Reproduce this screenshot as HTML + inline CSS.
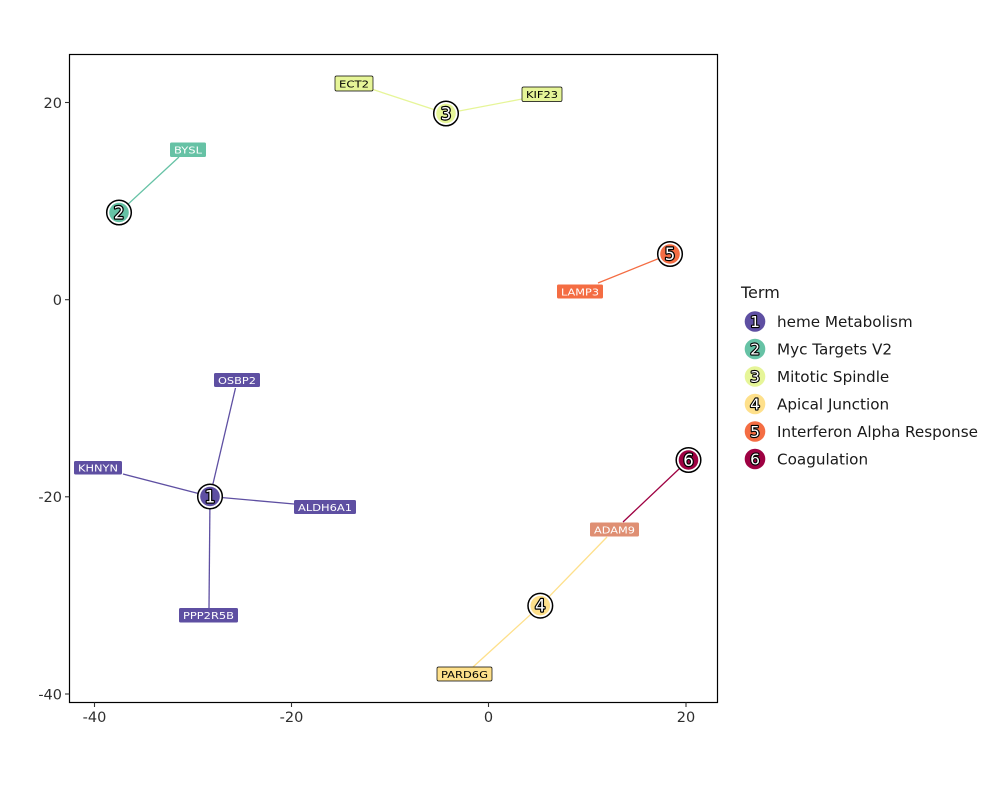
<!DOCTYPE html>
<html>
<head>
<meta charset="utf-8">
<style>
  html, body { margin:0; padding:0; background:#ffffff; }
  svg { display:block; }
  text { font-family: "DejaVu Sans", "Liberation Sans", sans-serif; }
  .tick { font-size:14.5px; fill:#2e2e2e; }
  .lbl { font-size:9.5px; }
  .num { font-size:16.5px; fill:#ffffff; stroke:#000000; stroke-width:2.4px; paint-order:stroke; stroke-linejoin:round; }
  .lnum { font-size:15.5px; fill:#ffffff; stroke:#000000; stroke-width:2.2px; paint-order:stroke; stroke-linejoin:round; }
  .leg { font-size:15.2px; fill:#1a1a1a; }
</style>
</head>
<body>
<svg width="1000" height="800" viewBox="0 0 1000 800" xmlns="http://www.w3.org/2000/svg">
  <rect x="0" y="0" width="1000" height="800" fill="#ffffff"/>

  <!-- edges -->
  <g stroke-width="1.3" fill="none">
    <line x1="210" y1="496.5" x2="235.5" y2="388" stroke="#5E4FA2"/>
    <line x1="210" y1="496.5" x2="123" y2="474" stroke="#5E4FA2"/>
    <line x1="210" y1="496.5" x2="294" y2="504" stroke="#5E4FA2"/>
    <line x1="210" y1="496.5" x2="209" y2="608" stroke="#5E4FA2"/>
    <line x1="119" y1="212.5" x2="179" y2="157" stroke="#66C2A5"/>
    <line x1="446" y1="113.5" x2="373" y2="89.5" stroke="#E6F598"/>
    <line x1="446" y1="113.5" x2="522" y2="99" stroke="#E6F598"/>
    <line x1="540.3" y1="605.7" x2="473" y2="667" stroke="#FEE08B"/>
    <line x1="540.3" y1="605.7" x2="607" y2="537" stroke="#FEE08B"/>
    <line x1="670" y1="254" x2="598" y2="283" stroke="#F46D43"/>
    <line x1="688.5" y1="460" x2="623" y2="522" stroke="#9E0142"/>
  </g>

  <!-- labels -->
  <g class="lbl">
    <rect x="170" y="142.5" width="36" height="14.5" rx="1.5" fill="#66C2A5"/>
    <text x="188" y="153.5" text-anchor="middle" fill="#ffffff" textLength="28" lengthAdjust="spacingAndGlyphs">BYSL</text>

    <rect x="335" y="76" width="38" height="15" rx="1.5" fill="#E6F598" stroke="#000" stroke-width="0.7"/>
    <text x="354" y="87.3" text-anchor="middle" fill="#000000" textLength="30" lengthAdjust="spacingAndGlyphs">ECT2</text>

    <rect x="522" y="87" width="40" height="14.5" rx="1.5" fill="#E6F598" stroke="#000" stroke-width="0.7"/>
    <text x="542" y="98" text-anchor="middle" fill="#000000" textLength="32" lengthAdjust="spacingAndGlyphs">KIF23</text>

    <rect x="214" y="373" width="46" height="14" rx="1.5" fill="#5E4FA2"/>
    <text x="237" y="383.8" text-anchor="middle" fill="#ffffff" textLength="38" lengthAdjust="spacingAndGlyphs">OSBP2</text>

    <rect x="74" y="461" width="48" height="13.5" rx="1.5" fill="#5E4FA2"/>
    <text x="98" y="471.5" text-anchor="middle" fill="#ffffff" textLength="40" lengthAdjust="spacingAndGlyphs">KHNYN</text>

    <rect x="294" y="500" width="62" height="14" rx="1.5" fill="#5E4FA2"/>
    <text x="325" y="510.8" text-anchor="middle" fill="#ffffff" textLength="54" lengthAdjust="spacingAndGlyphs">ALDH6A1</text>

    <rect x="179" y="608" width="59" height="14.5" rx="1.5" fill="#5E4FA2"/>
    <text x="208.5" y="619" text-anchor="middle" fill="#ffffff" textLength="51" lengthAdjust="spacingAndGlyphs">PPP2R5B</text>

    <rect x="557" y="284.5" width="46" height="14" rx="1.5" fill="#F46D43"/>
    <text x="580" y="295.3" text-anchor="middle" fill="#ffffff" textLength="38" lengthAdjust="spacingAndGlyphs">LAMP3</text>

    <rect x="590" y="522.5" width="49" height="14" rx="1.5" fill="#DF8F73"/>
    <text x="614.5" y="533.3" text-anchor="middle" fill="#ffffff" textLength="41" lengthAdjust="spacingAndGlyphs">ADAM9</text>

    <rect x="437" y="667" width="55" height="14" rx="1.5" fill="#FEE08B" stroke="#000" stroke-width="0.7"/>
    <text x="464.5" y="677.8" text-anchor="middle" fill="#000000" textLength="47" lengthAdjust="spacingAndGlyphs">PARD6G</text>
  </g>

  <!-- nodes -->
  <g>
    <circle cx="210" cy="496.5" r="12.3" fill="#ffffff" stroke="#000" stroke-width="1.5"/>
    <circle cx="210" cy="496.5" r="9.8" fill="#5E4FA2"/>
    <text class="num" x="210" y="502.5" text-anchor="middle">1</text>

    <circle cx="119" cy="212.5" r="12.3" fill="#ffffff" stroke="#000" stroke-width="1.5"/>
    <circle cx="119" cy="212.5" r="9.8" fill="#66C2A5"/>
    <text class="num" x="119" y="218.5" text-anchor="middle">2</text>

    <circle cx="446" cy="113.5" r="12.3" fill="#ffffff" stroke="#000" stroke-width="1.5"/>
    <circle cx="446" cy="113.5" r="9.8" fill="#E6F598"/>
    <text class="num" x="446" y="119.5" text-anchor="middle">3</text>

    <circle cx="540.3" cy="605.7" r="12.3" fill="#ffffff" stroke="#000" stroke-width="1.5"/>
    <circle cx="540.3" cy="605.7" r="9.8" fill="#FEE08B"/>
    <text class="num" x="540.3" y="611.7" text-anchor="middle">4</text>

    <circle cx="670" cy="254" r="12.3" fill="#ffffff" stroke="#000" stroke-width="1.5"/>
    <circle cx="670" cy="254" r="9.8" fill="#F46D43"/>
    <text class="num" x="670" y="260" text-anchor="middle">5</text>

    <circle cx="688.5" cy="460" r="12.3" fill="#ffffff" stroke="#000" stroke-width="1.5"/>
    <circle cx="688.5" cy="460" r="9.8" fill="#9E0142"/>
    <text class="num" x="688.5" y="466" text-anchor="middle">6</text>
  </g>

  <!-- panel border -->
  <rect x="69.5" y="54.5" width="648" height="648" fill="none" stroke="#000" stroke-width="1.2"/>

  <!-- ticks -->
  <g stroke="#333" stroke-width="1.1">
    <line x1="65" y1="102.5" x2="69.5" y2="102.5"/>
    <line x1="65" y1="299.7" x2="69.5" y2="299.7"/>
    <line x1="65" y1="496.8" x2="69.5" y2="496.8"/>
    <line x1="65" y1="694" x2="69.5" y2="694"/>
    <line x1="94.5" y1="702.5" x2="94.5" y2="707"/>
    <line x1="291.5" y1="702.5" x2="291.5" y2="707"/>
    <line x1="488.5" y1="702.5" x2="488.5" y2="707"/>
    <line x1="686" y1="702.5" x2="686" y2="707"/>
  </g>
  <g class="tick">
    <text x="62" y="107.8" text-anchor="end">20</text>
    <text x="62" y="305" text-anchor="end">0</text>
    <text x="62" y="502.1" text-anchor="end">-20</text>
    <text x="62" y="699.3" text-anchor="end">-40</text>
    <text x="94.5" y="722" text-anchor="middle">-40</text>
    <text x="291.5" y="722" text-anchor="middle">-20</text>
    <text x="488.5" y="722" text-anchor="middle">0</text>
    <text x="686" y="722" text-anchor="middle">20</text>
  </g>

  <!-- legend -->
  <text x="741" y="298" style="font-size:16px; fill:#1a1a1a;">Term</text>
  <g>
    <circle cx="755" cy="321.5" r="10.3" fill="#5E4FA2"/>
    <text class="lnum" x="755" y="327" text-anchor="middle">1</text>
    <text class="leg" x="777" y="327">heme Metabolism</text>

    <circle cx="755" cy="349" r="10.3" fill="#66C2A5"/>
    <text class="lnum" x="755" y="354.5" text-anchor="middle">2</text>
    <text class="leg" x="777" y="354.5">Myc Targets V2</text>

    <circle cx="755" cy="376.5" r="10.3" fill="#E6F598"/>
    <text class="lnum" x="755" y="382" text-anchor="middle">3</text>
    <text class="leg" x="777" y="382">Mitotic Spindle</text>

    <circle cx="755" cy="404" r="10.3" fill="#FEE08B"/>
    <text class="lnum" x="755" y="409.5" text-anchor="middle">4</text>
    <text class="leg" x="777" y="409.5">Apical Junction</text>

    <circle cx="755" cy="431.5" r="10.3" fill="#F46D43"/>
    <text class="lnum" x="755" y="437" text-anchor="middle">5</text>
    <text class="leg" x="777" y="437">Interferon Alpha Response</text>

    <circle cx="755" cy="459" r="10.3" fill="#9E0142"/>
    <text class="lnum" x="755" y="464.5" text-anchor="middle">6</text>
    <text class="leg" x="777" y="464.5">Coagulation</text>
  </g>
</svg>
</body>
</html>
